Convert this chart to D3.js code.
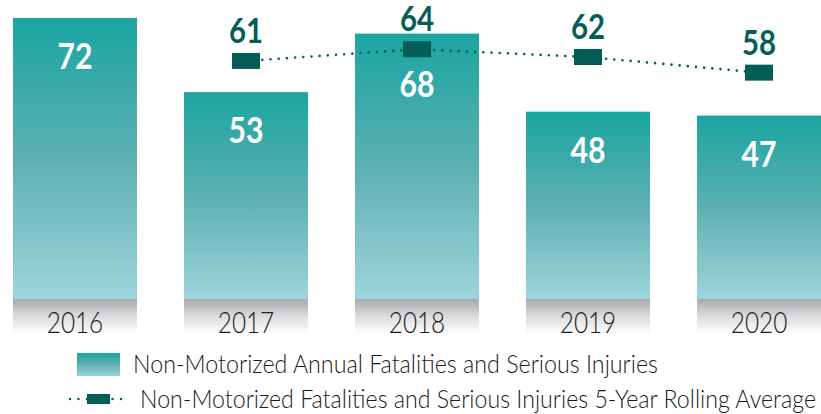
<!DOCTYPE html>
<html><head><meta charset="utf-8">
<script src="https://cdn.jsdelivr.net/npm/d3@7"></script>
<style>html,body{margin:0;padding:0;background:#fff;}svg{display:block;}</style>
</head><body>
<svg id="c" width="821" height="414"></svg>
<script>
const years = ["2016","2017","2018","2019","2020"];
const annualValues = [72, 53, 68, 48, 47];
const avgYears = ["2017","2018","2019","2020"];
const avgValues = [61, 64, 62, 58];
const legendLabels = ["Non-Motorized Annual Fatalities and Serious Injuries",
  "Non-Motorized Fatalities and Serious Injuries 5-Year Rolling Average"];

const svg = d3.select("#c");
const FONT = "Lato, 'Open Sans', sans-serif";
const dark = "#055e56";

const defs = svg.append("defs");
const bg = defs.append("linearGradient").attr("id","barGrad").attr("x1",0).attr("y1",0).attr("x2",0).attr("y2",1);
bg.append("stop").attr("offset","0").attr("stop-color","#1aa5a1");
bg.append("stop").attr("offset","0.5").attr("stop-color","#5db0b1");
bg.append("stop").attr("offset","1").attr("stop-color","#9dd5dc");
const gg = defs.append("linearGradient").attr("id","grayGrad").attr("x1",0).attr("y1",0).attr("x2",0).attr("y2",1);
gg.append("stop").attr("offset","0").attr("stop-color","#a9a9ad");
gg.append("stop").attr("offset","0.5").attr("stop-color","#dcdcde");
gg.append("stop").attr("offset","1").attr("stop-color","#ffffff");

const x = d3.scaleBand().domain(years).range([13, 821]).paddingInner(0.2749).paddingOuter(0);
const y = d3.scaleLinear().domain([0, 72]).range([299, 18]);

// axis band
svg.append("g").selectAll("rect").data(years).join("rect")
  .attr("x", d => x(d)).attr("y", 299).attr("width", x.bandwidth()).attr("height", 35)
  .attr("fill", "url(#grayGrad)");

// bars
svg.append("g").selectAll("rect").data(years).join("rect")
  .attr("x", d => x(d)).attr("y", (d,i) => y(annualValues[i]))
  .attr("width", x.bandwidth()).attr("height", (d,i) => y(0) - y(annualValues[i]))
  .attr("fill", "url(#barGrad)");

// year labels
svg.append("g").selectAll("text").data(years).join("text")
  .attr("transform", d => `translate(${x(d) + x.bandwidth()/2},333) scale(0.84,1)`)
  .attr("text-anchor","middle").attr("font-family",FONT).attr("font-size",29).attr("font-weight",300)
  .attr("fill","#1a1a1a").text(d => d);

// rolling average line
const cx = d => x(d) + x.bandwidth()/2;
const line = d3.line().x(d => cx(d[0])).y(d => y(d[1]));
svg.append("path").datum(avgYears.map((d,i)=>[d, avgValues[i]]))
  .attr("d", line).attr("fill","none").attr("stroke",dark).attr("stroke-width",2.6)
  .attr("stroke-linecap","round").attr("stroke-dasharray","0 8.2");

svg.append("g").selectAll("rect").data(avgYears).join("rect")
  .attr("x", d => cx(d) - 14).attr("y", (d,i) => y(avgValues[i]) - 8)
  .attr("width", 28).attr("height", 16).attr("fill", dark);

svg.append("g").selectAll("text").data(avgYears).join("text")
  .attr("transform", (d,i) => `translate(${cx(d)},${y(avgValues[i]) - 18}) scale(0.84,1)`)
  .attr("text-anchor","middle").attr("font-family",FONT).attr("font-weight",700)
  .attr("font-size",35).attr("fill",dark).text((d,i) => avgValues[i]);

// bar value labels
svg.append("g").selectAll("text").data(years).join("text")
  .attr("transform", (d,i) => {
    let by = y(annualValues[i]) + 51;
    const j = avgYears.indexOf(d);
    if (j >= 0) by = Math.max(by, y(avgValues[j]) + 48);
    return `translate(${cx(d)},${by}) scale(0.84,1)`;
  })
  .attr("text-anchor","middle").attr("font-family",FONT).attr("font-weight",700)
  .attr("font-size",36).attr("fill","#ffffff").text((d,i) => annualValues[i]);

// legend
const lg = svg.append("g");
lg.append("rect").attr("x",77).attr("y",353).attr("width",43).attr("height",23).attr("fill","url(#barGrad)");
lg.append("text").attr("x",133).attr("y",373).attr("font-family",FONT).attr("font-size",25).attr("font-weight",300)
  .attr("fill","#1a1a1a").attr("textLength",525).attr("lengthAdjust","spacingAndGlyphs").text(legendLabels[0]);
lg.append("line").attr("x1",70).attr("x2",122).attr("y1",399).attr("y2",399)
  .attr("stroke",dark).attr("stroke-width",2.6).attr("stroke-linecap","round").attr("stroke-dasharray","0 8.5");
lg.append("rect").attr("x",87).attr("y",394).attr("width",23).attr("height",10).attr("fill",dark);
lg.append("text").attr("x",140).attr("y",408).attr("font-family",FONT).attr("font-size",25).attr("font-weight",300)
  .attr("fill","#1a1a1a").attr("textLength",676).attr("lengthAdjust","spacingAndGlyphs").text(legendLabels[1]);
</script>
</body></html>
